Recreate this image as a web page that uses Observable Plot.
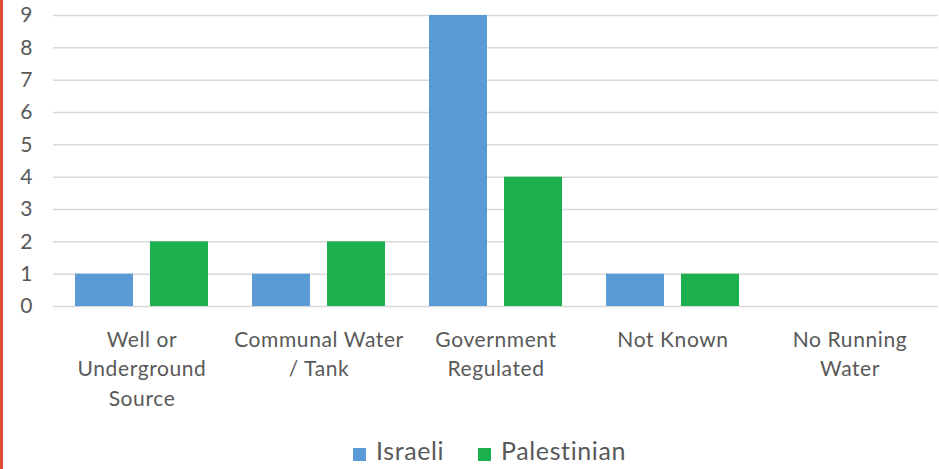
<!DOCTYPE html>
<html>
<head>
<meta charset="utf-8">
<script src="https://cdn.jsdelivr.net/npm/d3@7"></script>
<script src="https://cdn.jsdelivr.net/npm/@observablehq/plot@0.6"></script>
<style>
  html, body { margin: 0; padding: 0; background: #fff; }
  body { width: 939px; height: 469px; position: relative; overflow: hidden; font-family: Lato, "Open Sans", sans-serif; }
  #edge { position: absolute; left: 0; top: 0; width: 2.5px; height: 469px; background: #e04b35; }
  #legend { display: flex; justify-content: center; align-items: center; gap: 34px; height: 44px; margin-top: 15px; color: #595959; font-size: 25px; letter-spacing: 0.6px; padding-left: 40px; }
  #legend .item { display: flex; align-items: center; gap: 10px; }
  #legend .sw { width: 13px; height: 13px; display: inline-block; margin-top: 8px; }
  #chart svg g[aria-label="fx-axis tick label"] text { letter-spacing: 0.6px; }
</style>
</head>
<body>
<div id="edge"></div>
<div id="chart"></div>
<div id="legend"></div>
<script>
const categories = ["Well or\nUnderground\nSource", "Communal Water\n/ Tank", "Government\nRegulated", "Not Known", "No Running\nWater"];
const seriesNames = ["Israeli", "Palestinian"];
const israeli = [1, 1, 9, 1, 0];
const palestinian = [2, 2, 4, 1, 0];
const yTicks = [0, 1, 2, 3, 4, 5, 6, 7, 8, 9];
const colors = ["#5b9bd5", "#1db04f"];

const data = [];
categories.forEach((c, i) => {
  data.push({category: c, series: seriesNames[0], value: israeli[i]});
  data.push({category: c, series: seriesNames[1], value: palestinian[i]});
});

const chart = Plot.plot({
  width: 939,
  height: 413,
  marginTop: 15,
  marginBottom: 107,
  marginLeft: 53,
  marginRight: 1,
  style: {fontFamily: "Lato, 'Open Sans', sans-serif", fontSize: "18px", color: "#595959", background: "#fff"},
  fx: {domain: categories, paddingInner: 0, paddingOuter: 0, label: null, axis: null},
  x: {domain: seriesNames, paddingInner: 0.2267, paddingOuter: 0.2933, axis: null},
  y: {domain: [0, 9], label: null, axis: null},
  color: {domain: seriesNames, range: colors},
  marks: [
    Plot.ruleY(yTicks, {stroke: "#d9d9d9", strokeWidth: 1.5}),
    Plot.barY(data, {fx: "category", x: "series", y: "value", fill: "series"}),
    Plot.axisY({ticks: yTicks, tickSize: 0, tickPadding: 21, fontSize: 21, label: null, fill: "#595959"}),
    Plot.axisFx({anchor: "bottom", tickSize: 0, tickPadding: 19, fontSize: 21, lineHeight: 1.41, label: null, fill: "#595959"})
  ]
});
document.getElementById("chart").appendChild(chart);

const legend = document.getElementById("legend");
seriesNames.forEach((s, i) => {
  const item = document.createElement("span");
  item.className = "item";
  const sw = document.createElement("span");
  sw.className = "sw";
  sw.style.background = colors[i];
  const t = document.createElement("span");
  t.textContent = s;
  item.appendChild(sw);
  item.appendChild(t);
  legend.appendChild(item);
});
</script>
</body>
</html>
